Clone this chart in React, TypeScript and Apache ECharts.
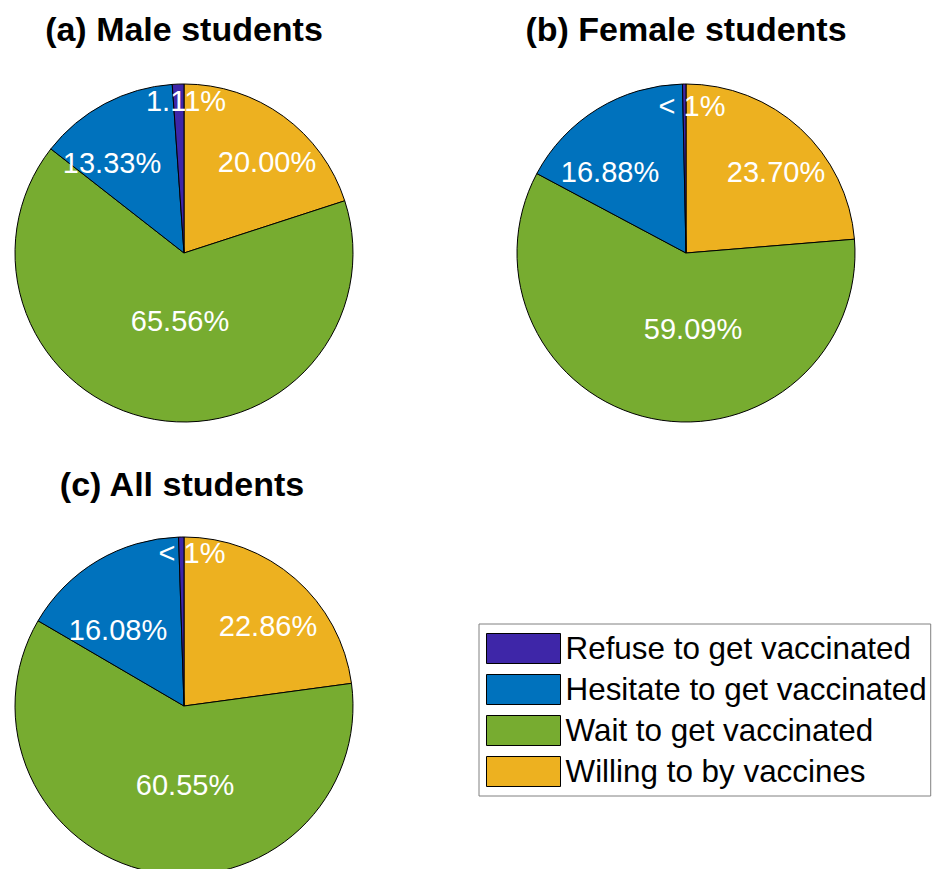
import React, { useEffect, useRef } from 'react';
import * as echarts from 'echarts';

// ---- data ----
const categories = [
  'Willing to by vaccines',
  'Wait to get vaccinated',
  'Hesitate to get vaccinated',
  'Refuse to get vaccinated',
];
const legendOrder = [
  'Refuse to get vaccinated',
  'Hesitate to get vaccinated',
  'Wait to get vaccinated',
  'Willing to by vaccines',
];
const maleValues = [20.0, 65.56, 13.33, 1.11];
const femaleValues = [23.7, 59.09, 16.88, 0.33];
const allValues = [22.86, 60.55, 16.08, 0.51];
const titles = ['(a) Male students', '(b) Female students', '(c) All students'];

// ---- styles / layout ----
const colors = ['#EDB120', '#77AC30', '#0072BD', '#3E26A8'];
const pieCenters = [
  [184, 253],
  [686, 253],
  [184, 706],
];
const pieRadius = 169;
const titlePos = [
  [184, 29],
  [686, 29],
  [182, 484],
];
const labelOffsets = [
  [[83, -91], [-4, 68], [-72, -90], [2, -152]],
  [[90, -81], [7, 76], [-76, -81], [6, -147]],
  [[84, -80], [1, 79], [-66, -76], [8, -153]],
];
const FONT = '"Liberation Sans", Arial, Helvetica, sans-serif';

function fmt(v: number): string {
  return v < 1 ? '< 1%' : v.toFixed(2) + '%';
}

export default function App() {
  const ref = useRef<HTMLDivElement>(null);
  useEffect(() => {
    if (!ref.current) return;
    const chart = echarts.init(ref.current, null, { renderer: 'svg' });
    const allSeries = [maleValues, femaleValues, allValues];
    const series = allSeries.map((vals, si) => ({
      type: 'pie',
      name: titles[si],
      center: pieCenters[si],
      radius: pieRadius,
      startAngle: 90,
      clockwise: true,
      silent: true,
      avoidLabelOverlap: false,
      emphasis: { disabled: true },
      itemStyle: { borderColor: '#000', borderWidth: 1 },
      label: {
        show: true,
        position: 'inside',
        formatter: (p: any) => fmt(p.value),
        color: '#fff',
        fontSize: 29,
        fontFamily: FONT,
      },
      labelLine: { show: false },
      labelLayout: (p: any) => ({
        x: pieCenters[si][0] + labelOffsets[si][p.dataIndex][0],
        y: pieCenters[si][1] + labelOffsets[si][p.dataIndex][1],
        align: 'center',
        verticalAlign: 'middle',
      }),
      data: categories.map((c, i) => ({
        name: c,
        value: vals[i],
        itemStyle: { color: colors[i] },
      })),
    }));
    chart.setOption({
      animation: false,
      backgroundColor: '#fff',
      color: colors,
      legend: {
        orient: 'vertical',
        left: 479,
        top: 624,
        padding: [9, 4, 9, 7],
        itemWidth: 74,
        itemHeight: 30,
        itemGap: 10,
        icon: 'rect',
        selectedMode: false,
        data: legendOrder,
        itemStyle: { borderColor: '#000', borderWidth: 1 },
        textStyle: { fontSize: 31.4, fontFamily: FONT, color: '#000', lineHeight: 30 },
        borderColor: '#808080',
        borderWidth: 1,
        backgroundColor: '#fff',
      },
      graphic: titles.map((t, i) => ({
        type: 'text',
        x: titlePos[i][0],
        y: titlePos[i][1],
        style: {
          text: t,
          font: 'bold 34px ' + FONT,
          fill: '#000',
          align: 'center',
          verticalAlign: 'middle',
        },
      })),
      series,
    });
    return () => chart.dispose();
  }, []);
  return (
    <div
      ref={ref}
      style={{ position: 'fixed', left: 0, top: 0, width: 932, height: 869 }}
    />
  );
}
